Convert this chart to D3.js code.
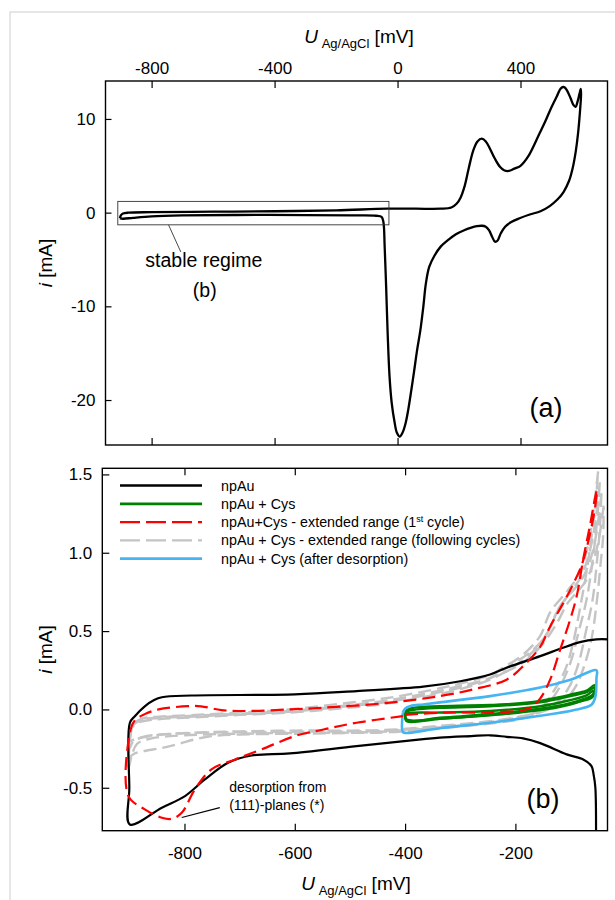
<!DOCTYPE html>
<meta charset="utf-8">
<style>
  body { margin: 0; background: #fff; }
  svg { font-family: "Liberation Sans", Arial, sans-serif; }
  .frame { fill: none; stroke: #000; stroke-width: 1.4px; }
  .axis text { font-size: 17px; fill: #000; }
  .axis line { stroke: #000; stroke-width: 1.2px; }
  .axis path { display: none; }
  .trace { fill: none; stroke-linejoin: round; }
</style>
<body>
<script src="https://cdn.jsdelivr.net/npm/d3@7"></script>
<script>

// ---- tick values
var ticksXA = [-800, -400, 0, 400];
var ticksYA = [10, 0, -10, -20];
var ticksXB = [-800, -600, -400, -200];
var ticksYB = [1.5, 1.0, 0.5, 0.0, -0.5];

// ---- panel (a): full CV of npAu, [U mV, i mA]
var npAuFull = [
  [-903,-0.6],[-900,-0.3],[-893,-0.1],[-875,0.0],[-800,0.05],[-600,0.1],[-400,0.15],[-200,0.25],
  [-33,0.42],[60,0.42],[140,0.42],[175,0.55],[192,0.95],[205,1.6],[218,2.8],[232,4.8],[246,6.6],
  [260,7.6],[274,7.9],[287,7.6],[301,6.8],[316,5.8],[333,4.9],[348,4.5],[362,4.45],[380,4.7],
  [400,5.0],[425,6.0],[461,8.4],[480,9.7],[500,11.2],[518,12.4],[532,13.3],[542,13.4],[552,13.0],
  [563,12.2],[572,11.5],[579,11.3],[586,11.9],[592,12.7],[596,13.2],
  [597,12.6],[593,10.6],[587,8.4],[580,6.6],[570,4.8],[558,3.4],[540,2.2],[520,1.4],[495,0.7],
  [465,0.15],[430,-0.2],[397,-0.6],[370,-1.0],[350,-1.5],[336,-2.2],[325,-3.0],[317,-3.1],
  [308,-2.6],[298,-1.9],[287,-1.5],[274,-1.4],[258,-1.45],[240,-1.6],[215,-1.9],[190,-2.3],
  [165,-2.9],[141,-3.6],[120,-4.6],[103,-5.8],[92,-7.6],[84,-10.0],[74,-12.6],[64,-14.6],
  [54,-16.9],[45,-18.9],[35,-21.0],[26,-22.5],[16,-23.5],[7,-23.9],[-2,-23.5],[-10,-22.3],[-19,-20.3],
  [-26,-17.5],[-32,-13],[-37,-8],[-42,-3.5],[-46,-1.0],[-52,-0.45],[-70,-0.33],[-150,-0.3],
  [-300,-0.26],[-525,-0.25],[-700,-0.3],[-800,-0.4],[-860,-0.55],[-893,-0.65],[-903,-0.6]
];

// ---- panel (b): stable regime
var npAu = [
  [-54,-0.95],[-55,-0.5],[-58,-0.42],[-62,-0.362],[-77,-0.319],[-107,-0.287],[-155,-0.215],
  [-186,-0.185],[-216,-0.175],[-246,-0.165],[-280,-0.17],[-337,-0.18],[-367,-0.19],[-488,-0.234],
  [-609,-0.281],[-678,-0.294],[-721,-0.34],[-763,-0.447],[-799,-0.553],[-841,-0.627],[-899,-0.734],
  [-900,-0.5],[-899,-0.085],[-890,-0.043],[-872,0.02],[-855,0.06],[-841,0.078],[-787,0.089],
  [-600,0.096],[-488,0.117],[-367,0.145],[-300,0.18],[-246,0.223],[-216,0.266],[-155,0.34],
  [-119,0.387],[-83,0.43],[-53,0.447],[-30,0.447]
];

var cys1 = [
  [-400,-0.03],[-397,-0.005],[-385,0.01],[-337,0.02],[-246,0.028],[-216,0.033],[-155,0.055],
  [-125,0.075],[-100,0.095],[-71,0.12],[-56,0.155],[-55,0.12],[-59,0.095],[-77,0.065],
  [-125,0.02],[-216,-0.02],[-300,-0.045],[-337,-0.053],[-397,-0.07],[-400,-0.03]
];
var cys2 = [
  [-400,-0.035],[-396,-0.012],[-380,0.0],[-337,0.01],[-246,0.02],[-155,0.045],[-100,0.085],
  [-71,0.11],[-56,0.14],[-57,0.11],[-62,0.085],[-80,0.055],[-125,0.012],[-216,-0.028],
  [-337,-0.06],[-397,-0.075],[-400,-0.035]
];
var cys3 = [
  [-400,-0.04],[-395,-0.025],[-337,-0.02],[-246,-0.01],[-155,0.02],[-100,0.06],[-71,0.09],
  [-58,0.12],[-60,0.08],[-90,0.045],[-155,0.0],[-246,-0.035],[-337,-0.06],[-397,-0.065],[-400,-0.04]
];

var extFirst = [
  [-400,-0.035],[-337,-0.021],[-246,-0.019],[-200,-0.01],[-173,0.01],[-155,0.07],[-137,0.19],
  [-119,0.38],[-101,0.57],[-89,0.72],[-77,0.96],[-65,1.17],[-55,1.36],[-52,1.40],[-55,1.30],
  [-66,1.10],[-80,0.92],[-98,0.78],[-113,0.68],[-137,0.53],[-155,0.40],[-186,0.276],[-216,0.19],
  [-276,0.128],[-337,0.085],[-428,0.043],[-548,0.011],[-609,0.0],[-685,-0.01],[-733,-0.004],
  [-770,0.02],[-793,0.021],[-847,0.0],[-872,-0.03],[-890,-0.07],[-899,-0.15],[-902,-0.55],
  [-872,-0.638],[-841,-0.691],[-823,-0.698],[-805,-0.66],[-781,-0.51],[-751,-0.383],[-708,-0.319],
  [-660,-0.255],[-600,-0.17],[-548,-0.128],[-488,-0.085],[-404,-0.043]
];

var extNext1 = [
  [-50,1.52],[-58,1.28],[-68,1.05],[-85,0.86],[-105,0.76],[-137,0.62],[-155,0.47],[-186,0.35],
  [-216,0.28],[-246,0.22],[-300,0.165],[-337,0.135],[-428,0.075],[-520,0.035],[-609,0.0],
  [-700,-0.02],[-781,-0.035],[-841,-0.045],[-878,-0.06],[-893,-0.1],[-899,-0.2],[-901,-0.37],
  [-896,-0.3],[-886,-0.22],[-860,-0.185],[-800,-0.165],[-700,-0.155],[-600,-0.15],[-500,-0.148],
  [-428,-0.14],[-337,-0.115],[-246,-0.085],[-200,-0.06],[-170,-0.03],[-150,0.02],[-130,0.12],
  [-110,0.25],[-97,0.4],[-88,0.55],[-80,0.7],[-70,0.9],[-62,1.1],[-55,1.3],[-50,1.52]
];
var extNext2 = [
  [-47,1.45],[-55,1.2],[-66,1.0],[-82,0.84],[-100,0.75],[-125,0.62],[-145,0.47],[-175,0.36],
  [-210,0.28],[-246,0.2],[-300,0.14],[-337,0.11],[-428,0.05],[-520,0.015],[-609,-0.015],
  [-700,-0.03],[-781,-0.045],[-841,-0.055],[-880,-0.07],[-895,-0.11],[-899,-0.18],[-900,-0.3],
  [-890,-0.28],[-872,-0.265],[-840,-0.245],[-811,-0.22],[-780,-0.19],[-751,-0.17],[-700,-0.16],
  [-600,-0.155],[-500,-0.15],[-428,-0.145],[-337,-0.12],[-246,-0.09],[-190,-0.06],[-160,-0.02],
  [-140,0.04],[-120,0.14],[-100,0.3],[-85,0.5],[-71,0.7],[-60,0.95],[-52,1.2],[-47,1.45]
];
var extNext3 = [
  [-44,1.38],[-52,1.15],[-62,0.98],[-78,0.84],[-95,0.76],[-119,0.66],[-140,0.5],[-165,0.38],
  [-200,0.28],[-246,0.19],[-300,0.13],[-337,0.1],[-428,0.04],[-520,0.005],[-609,-0.02],
  [-700,-0.035],[-781,-0.05],[-841,-0.06],[-880,-0.08],[-896,-0.12],[-899,-0.2],[-900,-0.25],
  [-892,-0.2],[-870,-0.175],[-841,-0.16],[-781,-0.148],[-700,-0.14],[-600,-0.135],[-500,-0.135],
  [-428,-0.13],[-337,-0.105],[-246,-0.075],[-190,-0.045],[-150,-0.01],[-120,0.06],[-100,0.16],
  [-85,0.3],[-72,0.5],[-60,0.7],[-52,0.95],[-47,1.15],[-44,1.38]
];
var extNext4 = [
  [-40,1.3],[-48,1.1],[-58,0.95],[-72,0.82],[-88,0.75],[-105,0.68],[-125,0.55],[-150,0.42],
  [-186,0.3],[-246,0.2],[-300,0.15],[-337,0.12],[-428,0.06],[-520,0.02],[-609,-0.01],
  [-700,-0.028],[-781,-0.04],[-841,-0.05],[-878,-0.065],[-894,-0.09],[-898,-0.13],[-899,-0.2],
  [-890,-0.19],[-870,-0.17],[-841,-0.16],[-781,-0.15],[-700,-0.145],[-600,-0.142],[-500,-0.14],
  [-428,-0.135],[-337,-0.11],[-246,-0.08],[-180,-0.04],[-140,0.0],[-110,0.06],[-90,0.15],
  [-75,0.28],[-62,0.45],[-52,0.7],[-45,0.95],[-41,1.1],[-40,1.3]
];

var afterDes = [
  [-404,-0.02],[-400,0.005],[-390,0.022],[-367,0.032],[-337,0.045],[-246,0.085],[-155,0.14],
  [-100,0.19],[-53,0.25],[-53,0.2],[-55,0.08],[-62,0.03],[-95,-0.005],[-155,-0.04],[-246,-0.085],
  [-337,-0.12],[-397,-0.15],[-404,-0.145],[-404,-0.02]
];

var legendLabels = ["npAu", "npAu + Cys", "npAu+Cys - extended range (1|st| cycle)",
  "npAu + Cys - extended range (following cycles)", "npAu + Cys (after desorption)"];
var legendColors = ["#000", "#008000", "#ff0000", "#c4c4c4", "#45b4f2"];
var legendDash = [null, null, "20,6", "20,6", null];

var svg = d3.select("body").append("svg")
    .attr("width", 615)
    .attr("height", 900);

// faint page border
svg.append("path")
    .attr("d", "M10,900V12H615")
    .attr("fill", "none")
    .attr("stroke", "#dedede")
    .attr("stroke-width", 1.5);

// scales
var xA = d3.scaleLinear().domain([-950, 683]).range([105.5, 607.5]);
var yA = d3.scaleLinear().domain([-24.8, 14.05]).range([445, 81]);
var xB = d3.scaleLinear().domain([-949, -33]).range([102.3, 607.5]);
var yB = d3.scaleLinear().domain([-0.774, 1.539]).range([830.7, 468.3]);

var defs = svg.append("defs");
defs.append("clipPath").attr("id", "clipA").append("rect")
    .attr("x", xA.range()[0]).attr("y", yA.range()[1])
    .attr("width", xA.range()[1] - xA.range()[0]).attr("height", yA.range()[0] - yA.range()[1]);
defs.append("clipPath").attr("id", "clipB").append("rect")
    .attr("x", xB.range()[0]).attr("y", yB.range()[1])
    .attr("width", xB.range()[1] - xB.range()[0]).attr("height", yB.range()[0] - yB.range()[1]);

function fmt(d) { return String(d); }

// ================= panel (a)
svg.append("g").attr("class", "axis")
    .attr("transform", "translate(0," + yA.range()[1] + ")")
    .call(d3.axisTop(xA).tickValues(ticksXA).tickSizeInner(-7).tickSizeOuter(0).tickPadding(7).tickFormat(fmt));
svg.append("g").attr("class", "axis")
    .attr("transform", "translate(0," + yA.range()[0] + ")")
    .call(d3.axisBottom(xA).tickValues(ticksXA).tickSizeInner(-7).tickSizeOuter(0).tickFormat(""));
svg.append("g").attr("class", "axis")
    .attr("transform", "translate(" + xA.range()[0] + ",0)")
    .call(d3.axisLeft(yA).tickValues(ticksYA).tickSizeInner(-6).tickSizeOuter(0).tickPadding(10).tickFormat(fmt));

var lineA = d3.line()
    .x(function (d) { return xA(d[0]); })
    .y(function (d) { return yA(d[1]); })
    .curve(d3.curveCatmullRom.alpha(0.5));

svg.append("path")
    .datum(npAuFull)
    .attr("class", "trace")
    .attr("clip-path", "url(#clipA)")
    .attr("stroke", "#000")
    .attr("stroke-width", 2.3)
    .attr("d", lineA);

svg.append("rect")
    .attr("class", "frame")
    .attr("x", xA.range()[0]).attr("y", yA.range()[1])
    .attr("width", xA.range()[1] - xA.range()[0])
    .attr("height", yA.range()[0] - yA.range()[1]);

// zoom box for (b)
svg.append("rect")
    .attr("x", xA(-910)).attr("y", yA(1.2))
    .attr("width", xA(-28) - xA(-910)).attr("height", yA(-1.3) - yA(1.2))
    .attr("fill", "none").attr("stroke", "#333").attr("stroke-width", 0.9);
svg.append("line")
    .attr("x1", xA(-745)).attr("y1", yA(-1.3))
    .attr("x2", xA(-705)).attr("y2", yA(-4.2))
    .attr("stroke", "#333").attr("stroke-width", 0.9);
svg.append("text")
    .attr("x", xA(-630)).attr("y", yA(-5.8))
    .attr("text-anchor", "middle").style("font-size", "19.5px")
    .text("stable regime");
svg.append("text")
    .attr("x", xA(-627)).attr("y", yA(-9.0))
    .attr("text-anchor", "middle").style("font-size", "19.5px")
    .text("(b)");
svg.append("text")
    .attr("x", xA(483)).attr("y", yA(-21.8))
    .attr("text-anchor", "middle").style("font-size", "27px")
    .text("(a)");

// axis titles
function uTitle(x, y) {
  var t = svg.append("text").attr("x", x).attr("y", y)
      .attr("text-anchor", "middle").style("font-size", "19px");
  t.append("tspan").style("font-style", "italic").text("U");
  t.append("tspan").attr("dy", 5).style("font-size", "13px").text("\u00a0Ag/AgCl");
  t.append("tspan").attr("dy", -5).text(" [mV]");
}
function iTitle(cx, cy) {
  var t = svg.append("text")
      .attr("transform", "translate(" + cx + "," + cy + ") rotate(-90)")
      .attr("text-anchor", "middle").style("font-size", "19px");
  t.append("tspan").style("font-style", "italic").text("i");
  t.append("tspan").text(" [mA]");
}
uTitle(359, 43);
iTitle(52, (yA.range()[0] + yA.range()[1]) / 2);

// ================= panel (b)
svg.append("g").attr("class", "axis")
    .attr("transform", "translate(0," + yB.range()[1] + ")")
    .call(d3.axisTop(xB).tickValues(ticksXB).tickSizeInner(-7).tickSizeOuter(0).tickFormat(""));
svg.append("g").attr("class", "axis")
    .attr("transform", "translate(0," + yB.range()[0] + ")")
    .call(d3.axisBottom(xB).tickValues(ticksXB).tickSizeInner(-7).tickSizeOuter(0).tickPadding(16).tickFormat(fmt));
svg.append("g").attr("class", "axis")
    .attr("transform", "translate(" + xB.range()[0] + ",0)")
    .call(d3.axisLeft(yB).tickValues(ticksYB).tickSizeInner(-7).tickSizeOuter(0).tickPadding(10)
      .tickFormat(function (d) { return d.toFixed(1); }));

var lineB = d3.line()
    .x(function (d) { return xB(d[0]); })
    .y(function (d) { return yB(d[1]); })
    .curve(d3.curveCatmullRom.alpha(0.5));

var plotB = svg.append("g").attr("clip-path", "url(#clipB)");

[extNext1, extNext2, extNext3, extNext4].forEach(function (s) {
  plotB.append("path").datum(s)
      .attr("class", "trace")
      .attr("stroke", legendColors[3])
      .attr("stroke-width", 2.4)
      .attr("stroke-dasharray", "13,6")
      .attr("d", lineB);
});
plotB.append("path").datum(npAu)
    .attr("class", "trace")
    .attr("stroke", legendColors[0])
    .attr("stroke-width", 2.2)
    .attr("d", lineB);
[cys1, cys2, cys3].forEach(function (s) {
  plotB.append("path").datum(s)
      .attr("class", "trace")
      .attr("stroke", legendColors[1])
      .attr("stroke-width", 2.4)
      .attr("d", lineB);
});
plotB.append("path").datum(afterDes)
    .attr("class", "trace")
    .attr("stroke", legendColors[4])
    .attr("stroke-width", 2.6)
    .attr("d", lineB);
plotB.append("path").datum(extFirst)
    .attr("class", "trace")
    .attr("stroke", legendColors[2])
    .attr("stroke-width", 2.2)
    .attr("stroke-dasharray", "13,6")
    .attr("d", lineB);

svg.append("rect")
    .attr("class", "frame")
    .attr("x", xB.range()[0]).attr("y", yB.range()[1])
    .attr("width", xB.range()[1] - xB.range()[0])
    .attr("height", yB.range()[0] - yB.range()[1]);

// legend
var legend = svg.selectAll(".legend")
    .data(legendLabels)
    .enter().append("g")
    .attr("class", "legend")
    .attr("transform", function (d, i) { return "translate(0," + (485.5 + i * 18.3) + ")"; });

legend.append("line")
    .attr("x1", 120).attr("x2", 202)
    .attr("stroke", function (d, i) { return legendColors[i]; })
    .attr("stroke-width", function (d, i) { return i === 1 || i === 4 ? 2.8 : 2.4; })
    .attr("stroke-dasharray", function (d, i) { return legendDash[i]; });

legend.append("text")
    .attr("x", 221)
    .attr("dy", "0.35em")
    .style("font-size", "14.3px")
    .each(function (d) {
      var parts = d.split("|");
      var t = d3.select(this);
      t.append("tspan").text(parts[0]);
      if (parts.length > 1) {
        t.append("tspan").attr("dy", -5).style("font-size", "9px").text(parts[1]);
        t.append("tspan").attr("dy", 5).text(parts[2]);
      }
    });

// annotation
svg.append("line")
    .attr("x1", xB(-805)).attr("y1", yB(-0.69))
    .attr("x2", xB(-736)).attr("y2", yB(-0.627))
    .attr("stroke", "#000").attr("stroke-width", 1.2);
svg.append("text")
    .attr("x", xB(-719)).attr("y", yB(-0.53))
    .style("font-size", "14px")
    .text("desorption from");
svg.append("text")
    .attr("x", xB(-719)).attr("y", yB(-0.643))
    .style("font-size", "14px")
    .text("(111)-planes (*)");
svg.append("text")
    .attr("x", xB(-150)).attr("y", yB(-0.63))
    .attr("text-anchor", "middle").style("font-size", "27px")
    .text("(b)");

uTitle(356, 890);
iTitle(52, (yB.range()[0] + yB.range()[1]) / 2);

</script>
</body>
